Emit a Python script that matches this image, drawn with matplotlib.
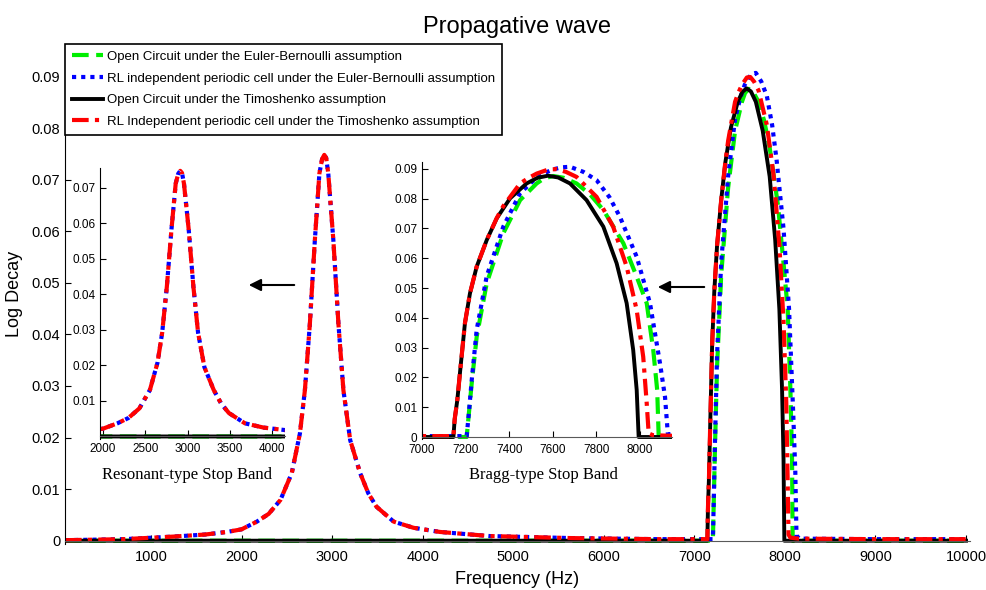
# Propagative wave - log decay of the periodic piezo beam (OC vs RL, EB vs Timoshenko)

import numpy as np
import matplotlib.pyplot as plt
from matplotlib.ticker import FormatStrFormatter

plt.rcParams['font.family'] = ['Liberation Sans', 'DejaVu Sans']

# resonant peak of the RL cells (same for both beam models)
f_res = [50, 700, 1250, 1600, 1840, 2000, 2170, 2300, 2430, 2555, 2645, 2700, 2755,
         2810, 2860, 2890, 2914, 2935, 2958, 3014, 3070, 3125, 3200, 3310, 3400,
         3490, 3680, 3900, 4190, 4740, 5660, 6590]
d_res = [0.0001, 0.0003, 0.0008, 0.0012, 0.0017, 0.0022, 0.0037, 0.0052, 0.0079,
         0.0131, 0.0208, 0.0292, 0.0421, 0.0583, 0.0712, 0.0740, 0.0748, 0.0742,
         0.0712, 0.0583, 0.0421, 0.0292, 0.0195, 0.0131, 0.0092, 0.0066, 0.0037,
         0.0025, 0.0017, 0.0009, 0.0005, 0.0003]

# Open Circuit, Euler-Bernoulli
f_oc_eb = [50, 7205, 7228, 7251, 7297, 7373, 7450, 7526, 7560, 7602, 7650, 7709,
           7770, 7832, 7924, 7985, 8031, 8061, 8079, 8086, 10000]
d_oc_eb = [0, 0, 0.0180, 0.0337, 0.0516, 0.0684, 0.0795, 0.0851, 0.0868, 0.0876,
           0.0870, 0.0851, 0.0815, 0.0762, 0.0650, 0.0538, 0.0449, 0.0292, 0.0158,
           0, 0]

# RL cell, Euler-Bernoulli
f_rl_eb = f_res + [7205, 7215, 7228, 7251, 7297, 7373, 7450, 7510, 7557, 7600, 7640,
                   7679, 7740, 7801, 7860, 7908, 7985, 8046, 8092, 8115, 8128, 8160,
                   9000, 10000]
d_rl_eb = d_res + [0.0003, 0.0080, 0.0190, 0.0360, 0.0540, 0.0706, 0.0818, 0.0860,
                   0.0884, 0.0898, 0.0905, 0.0907, 0.0890, 0.0862, 0.0805, 0.0739,
                   0.0605, 0.0449, 0.0247, 0.0134, 0.0010, 0.0004, 0.0003, 0.0003]

# Open Circuit, Timoshenko
f_oc_ti = [50, 7144, 7150, 7162, 7177, 7197, 7220, 7251, 7297, 7343, 7404, 7480,
           7530, 7578, 7625, 7679, 7755, 7832, 7893, 7939, 7969, 7985, 7994, 10000]
d_oc_ti = [0, 0, 0.0060, 0.0124, 0.0236, 0.0382, 0.0482, 0.0572, 0.0661, 0.0734,
           0.0801, 0.0851, 0.0870, 0.0877, 0.0871, 0.0851, 0.0795, 0.0706, 0.0583,
           0.0449, 0.0292, 0.0158, 0, 0]

# RL cell, Timoshenko
f_rl_ti = f_res + [7144, 7150, 7162, 7177, 7197, 7220, 7251, 7297, 7343, 7373, 7450,
                   7490, 7526, 7580, 7618, 7660, 7709, 7801, 7877, 7939, 7985, 8015,
                   8031, 8040, 8060, 8150, 9000, 10000]
d_rl_ti = d_res + [0.0003, 0.0060, 0.0124, 0.0236, 0.0382, 0.0482, 0.0572, 0.0661,
                   0.0735, 0.0775, 0.0851, 0.0870, 0.0884, 0.0898, 0.0899, 0.0890,
                   0.0873, 0.0806, 0.0706, 0.0572, 0.0426, 0.0269, 0.0113, 0.0012,
                   0.0006, 0.0004, 0.0003, 0.0003]

labels = ['Open Circuit under the Euler-Bernoulli assumption',
          'RL independent periodic cell under the Euler-Bernoulli assumption',
          'Open Circuit under the Timoshenko assumption',
          'RL Independent periodic cell under the Timoshenko assumption']

series = [(f_oc_eb, d_oc_eb, dict(color='#00ee00', lw=3, dashes=(4, 1.8))),
          (f_rl_eb, d_rl_eb, dict(color='#0000ff', lw=3, dashes=(1, 1.2))),
          (f_oc_ti, d_oc_ti, dict(color='black', lw=2.8, ls='-')),
          (f_rl_ti, d_rl_ti, dict(color='#ff0000', lw=3, dashes=(4, 1.5, 1, 1.5)))]

W, H = 987, 590
fig = plt.figure(figsize=(W / 100, H / 100), dpi=100)


def px_axes(left, right, top, bottom):
    return [left / W, 1 - bottom / H, (right - left) / W, (bottom - top) / H]


def style(ax, size, pad):
    ax.spines['top'].set_visible(False)
    ax.spines['right'].set_visible(False)
    ax.spines['bottom'].set_position(('data', 0))
    ax.spines['bottom'].set_color('0.35')
    ax.tick_params(direction='in', length=4, labelsize=size, top=False, right=False)
    ax.tick_params(axis='x', pad=pad)


# main axes
ax = fig.add_axes(px_axes(65, 970, 44, 543.8))
for f, d, kw in series:
    ax.plot(f, d, **kw)
ax.set_xlim(51, 10044)
ax.set_ylim(-0.0006, 0.0963)
ax.set_xticks(np.arange(1000, 10001, 1000))
ax.set_yticks(np.arange(0, 0.091, 0.01))
ax.yaxis.set_major_formatter(FormatStrFormatter('%g'))
style(ax, 10.5, 7)
ax.set_title('Propagative wave', fontsize=17, pad=8)
ax.set_xlabel('Frequency (Hz)', fontsize=13, labelpad=5)
ax.set_ylabel('Log Decay', fontsize=13, labelpad=6)
leg = ax.legend(labels, loc='upper left', bbox_to_anchor=(0, 1), borderaxespad=0,
                fontsize=9.5, fancybox=False, edgecolor='black', framealpha=1,
                handlelength=2.4, handletextpad=0.3, labelspacing=0.72,
                borderpad=0.5)
leg.get_frame().set_linewidth(1.2)

# inset: resonant band
ax1 = fig.add_axes(px_axes(100, 285, 168, 438.6))
for f, d, kw in series:
    ax1.plot(f, d, **kw)
ax1.set_xlim(1964, 4154)
ax1.set_ylim(-0.0006, 0.0756)
ax1.set_xticks([2000, 2500, 3000, 3500, 4000])
ax1.set_yticks(np.arange(0.01, 0.071, 0.01))
ax1.yaxis.set_major_formatter(FormatStrFormatter('%g'))
style(ax1, 8.5, 5)

# inset: Bragg band
ax2 = fig.add_axes(px_axes(422, 672, 162, 438.8))
for f, d, kw in series:
    ax2.plot(f, d, **kw)
ax2.set_xlim(7000, 8147)
ax2.set_ylim(-0.0006, 0.0923)
ax2.set_xticks(np.arange(7000, 8001, 200))
ax2.set_yticks(np.arange(0, 0.091, 0.01))
ax2.yaxis.set_major_formatter(FormatStrFormatter('%g'))
style(ax2, 8.5, 5)

fig.text(187 / W, 1 - 475 / H, 'Resonant-type Stop Band', family='Liberation Serif',
         fontsize=12, ha='center', va='center')
fig.text(543 / W, 1 - 475 / H, 'Bragg-type Stop Band', family='Liberation Serif',
         fontsize=12, ha='center', va='center')

arrow = dict(arrowstyle='-|>', color='black', lw=1.5, mutation_scale=18)
fig.add_artist(plt.Annotation('', xy=(246 / W, 1 - 285 / H), xytext=(297 / W, 1 - 285 / H),
                              xycoords='figure fraction', arrowprops=arrow))
fig.add_artist(plt.Annotation('', xy=(655 / W, 1 - 287 / H), xytext=(707 / W, 1 - 287 / H),
                              xycoords='figure fraction', arrowprops=arrow))

fig.savefig('out.png', dpi=100)
